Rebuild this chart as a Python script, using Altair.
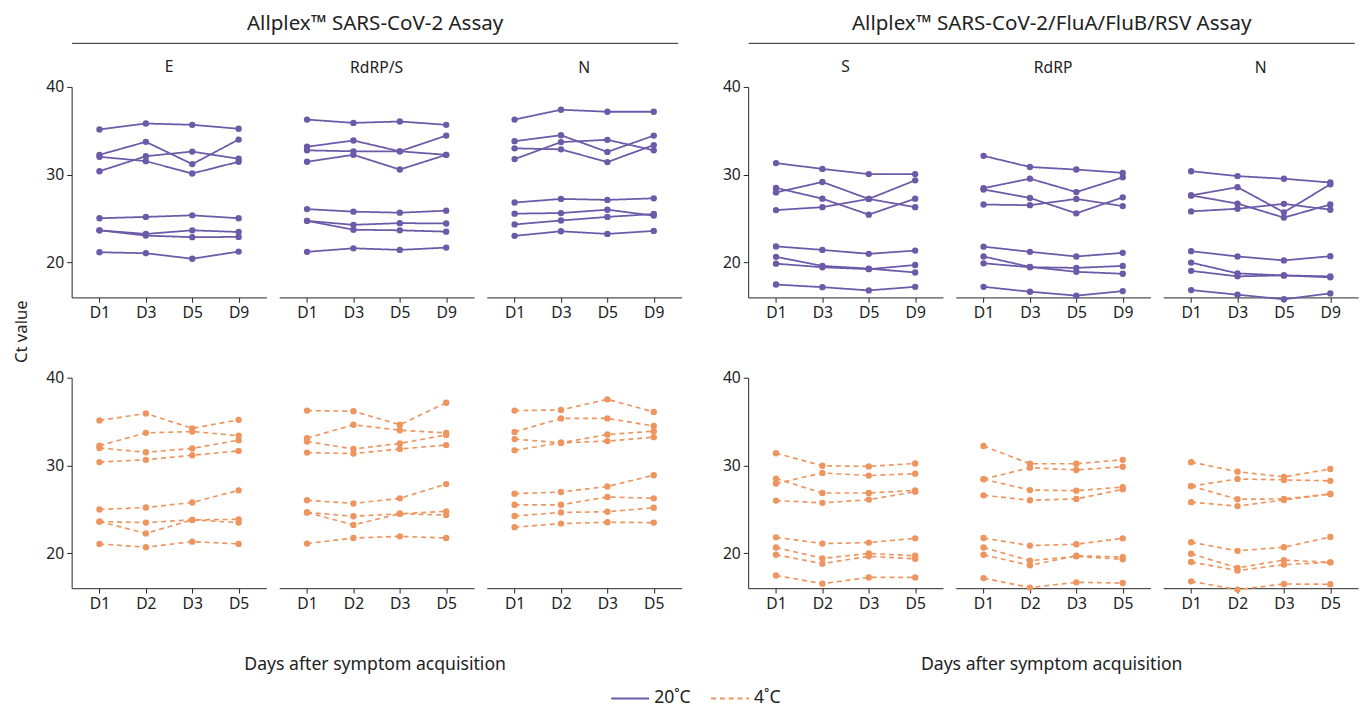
import altair as alt
import pandas as pd

PURPLE = "#6A5BA8"
ORANGE = "#EE955F"
AXIS_COLOR = "#222222"
FONT = "Noto Sans"

temps = ["20˚C", "4˚C"]
days_20 = ["D1", "D3", "D5", "D9"]
days_4 = ["D1", "D2", "D3", "D5"]
samples = ["s1", "s2", "s3", "s4", "s5", "s6", "s7", "s8"]
assay_titles = ["Allplex™ SARS-CoV-2 Assay", "Allplex™ SARS-CoV-2/FluA/FluB/RSV Assay"]
targets_1 = ["E", "RdRP/S", "N"]
targets_2 = ["S", "RdRP", "N"]
y_ticks = [20, 30, 40]
y_domain = [16, 40]
x_title = "Days after symptom acquisition"
y_title = "Ct value"

# ---- Assay 1, 20˚C (D1, D3, D5, D9) ----
e_20 = [
    [35.16, 35.83, 35.68, 35.23],
    [32.26, 33.74, 31.20, 34.00],
    [32.03, 31.54, 30.13, 31.47],
    [30.39, 32.10, 32.63, 31.81],
    [25.03, 25.18, 25.36, 25.03],
    [23.65, 23.24, 23.65, 23.46],
    [23.65, 23.05, 22.87, 22.90],
    [21.15, 21.04, 20.41, 21.23],
]
rdrps_20 = [
    [36.28, 35.90, 36.06, 35.68],
    [33.18, 33.89, 32.66, 32.26],
    [32.77, 32.66, 32.66, 34.45],
    [31.47, 32.26, 30.58, 32.26],
    [26.07, 25.78, 25.66, 25.89],
    [24.73, 24.28, 24.47, 24.43],
    [24.73, 23.72, 23.65, 23.50],
    [21.20, 21.60, 21.42, 21.68],
]
n1_20 = [
    [36.28, 37.40, 37.17, 37.17],
    [33.82, 34.49, 32.59, 34.45],
    [33.00, 32.88, 31.43, 33.37],
    [31.77, 33.71, 33.97, 32.77],
    [26.82, 27.23, 27.12, 27.30],
    [25.55, 25.62, 26.00, 25.33],
    [24.32, 24.77, 25.18, 25.51],
    [23.02, 23.54, 23.24, 23.58],
]
# ---- Assay 2, 20˚C ----
s_20 = [
    [31.32, 30.65, 30.06, 30.06],
    [27.97, 29.16, 27.23, 26.29],
    [28.49, 27.26, 25.44, 27.26],
    [25.96, 26.29, 27.23, 29.35],
    [21.82, 21.42, 20.97, 21.34],
    [20.63, 19.59, 19.29, 18.84],
    [19.85, 19.44, 19.22, 19.70],
    [17.47, 17.17, 16.80, 17.21],
]
rdrp_20 = [
    [32.14, 30.87, 30.58, 30.20],
    [28.46, 29.54, 28.01, 29.69],
    [28.31, 27.34, 25.59, 27.41],
    [26.59, 26.52, 27.23, 26.41],
    [21.79, 21.20, 20.67, 21.08],
    [20.67, 19.48, 18.92, 18.70],
    [19.89, 19.44, 19.37, 19.59],
    [17.21, 16.65, 16.20, 16.72],
]
n2_20 = [
    [30.39, 29.83, 29.53, 29.10],
    [27.63, 28.57, 25.70, 28.90],
    [27.63, 26.70, 25.10, 26.59],
    [25.81, 26.11, 26.67, 26.00],
    [21.27, 20.67, 20.22, 20.70],
    [19.97, 18.74, 18.51, 18.40],
    [19.03, 18.40, 18.51, 18.29],
    [16.84, 16.31, 15.79, 16.46],
]
# ---- Assay 1, 4˚C (D1, D2, D3, D5) ----
e_4 = [
    [35.13, 35.92, 34.23, 35.20],
    [32.25, 33.71, 33.86, 33.40],
    [31.99, 31.50, 31.94, 32.88],
    [30.38, 30.64, 31.16, 31.65],
    [24.98, 25.20, 25.77, 27.16],
    [23.60, 23.48, 23.79, 23.85],
    [23.60, 22.25, 23.79, 23.48],
    [21.05, 20.67, 21.31, 21.05],
]
rdrps_4 = [
    [36.25, 36.18, 34.64, 37.15],
    [33.11, 34.64, 34.01, 33.71],
    [32.73, 31.87, 32.51, 33.48],
    [31.46, 31.35, 31.87, 32.32],
    [26.03, 25.66, 26.25, 27.87],
    [24.64, 24.20, 24.49, 24.76],
    [24.64, 23.22, 24.49, 24.34],
    [21.09, 21.72, 21.91, 21.72],
]
n1_4 = [
    [36.25, 36.33, 37.53, 36.10],
    [33.82, 35.36, 35.36, 34.49],
    [33.00, 32.58, 33.52, 33.90],
    [31.72, 32.58, 32.77, 33.22],
    [26.78, 26.97, 27.60, 28.88],
    [25.51, 25.51, 26.40, 26.25],
    [24.23, 24.64, 24.72, 25.17],
    [22.96, 23.37, 23.52, 23.48],
]
# ---- Assay 2, 4˚C ----
s_4 = [
    [31.39, 29.96, 29.89, 30.22],
    [27.94, 29.14, 28.84, 29.06],
    [28.50, 26.85, 26.85, 27.15],
    [25.99, 25.73, 26.10, 27.00],
    [21.80, 21.09, 21.20, 21.69],
    [20.64, 19.40, 19.96, 19.70],
    [19.81, 18.80, 19.63, 19.36],
    [17.45, 16.52, 17.23, 17.23],
]
rdrp_4 = [
    [32.21, 30.19, 30.19, 30.64],
    [28.43, 29.74, 29.48, 29.85],
    [28.43, 27.19, 27.12, 27.53],
    [26.59, 26.03, 26.18, 27.27],
    [21.72, 20.86, 21.01, 21.69],
    [20.64, 19.14, 19.63, 19.29],
    [19.81, 18.61, 19.70, 19.55],
    [17.15, 16.07, 16.67, 16.59],
]
n2_4 = [
    [30.37, 29.29, 28.69, 29.59],
    [27.64, 28.46, 28.35, 28.24],
    [27.64, 26.14, 26.18, 26.74],
    [25.81, 25.36, 26.07, 26.74],
    [21.24, 20.26, 20.67, 21.84],
    [19.93, 18.31, 19.21, 18.95],
    [18.99, 18.01, 18.69, 18.95],
    [16.78, 15.84, 16.48, 16.45],
]

PANEL_W = 199
PANEL_H = 215
COL_GAP = 11
GROUP_W = 3 * PANEL_W + 2 * COL_GAP

color_scale = alt.Scale(domain=temps, range=[PURPLE, ORANGE])
dash_scale = alt.Scale(domain=temps, range=[[1, 0], [5, 4]])


def make_legend():
    return alt.Legend(
        title=None, orient="none", legendX=550, legendY=649, direction="horizontal",
        symbolType="stroke", symbolSize=1500, symbolStrokeWidth=2,
        labelFontSize=18, labelColor=AXIS_COLOR, labelFont=FONT,
        columnPadding=16, labelOffset=4, padding=0,
    )


def make_df(values, days, temp):
    rows = []
    for s, series in zip(samples, values):
        for d, v in zip(days, series):
            rows.append({"sample": s, "day": d, "ct": v, "temp": temp})
    return pd.DataFrame(rows)


def panel(values, days, temp, title=None, show_y=False):
    df = make_df(values, days, temp)
    x_axis = alt.Axis(
        title="", domainColor=AXIS_COLOR, tickColor=AXIS_COLOR, labelColor=AXIS_COLOR,
        labelFontSize=16, labelFont=FONT, labelAngle=0, tickSize=5, labelPadding=3,
        domainWidth=1, tickWidth=1, grid=False,
    )
    x_enc = alt.X("day:O", sort=days,
                  scale=alt.Scale(type="point", domain=days, padding=0.6),
                  axis=x_axis)
    y_scale = alt.Scale(domain=y_domain, nice=False, zero=False)
    if show_y:
        y_axis = alt.Axis(
            title="", values=y_ticks, grid=False, domainColor=AXIS_COLOR, tickColor=AXIS_COLOR,
            labelColor=AXIS_COLOR, labelFontSize=16, labelFont=FONT, tickSize=5,
            labelPadding=3, domainWidth=1, tickWidth=1, minExtent=0,
        )
        y_enc = alt.Y("ct:Q", scale=y_scale, axis=y_axis)
    else:
        y_enc = alt.Y("ct:Q", scale=y_scale, axis=None)

    is_warm = temp == temps[0]
    ch = alt.Chart(df).mark_line(
        strokeWidth=1.8 if is_warm else 1.7,
        point=alt.OverlayMarkDef(filled=True, size=42, opacity=1),
    ).encode(
        x=x_enc,
        y=y_enc,
        detail="sample:N",
        color=alt.Color("temp:N", scale=color_scale, legend=make_legend()),
        strokeDash=alt.StrokeDash("temp:N", scale=dash_scale, legend=make_legend()),
    )
    props = dict(width=PANEL_W, height=PANEL_H)
    if title:
        # the first panel's top y label already lifts its title a little
        props["title"] = alt.TitleParams(title, fontSize=16, font=FONT, fontWeight="normal",
                                         color=AXIS_COLOR, offset=4 if show_y else 11,
                                         anchor="middle", frame="group")
    return ch.properties(**props)


def header(text):
    df = pd.DataFrame({"assay": [text]})
    return alt.Chart(df).mark_point(opacity=0).encode(
        x=alt.X("assay:N", axis=alt.Axis(
            orient="top", labels=False, ticks=False, domain=True,
            domainColor=AXIS_COLOR, domainWidth=1, title=text,
            titleFontSize=21, titleFont=FONT, titleFontWeight="normal",
            titleColor=AXIS_COLOR, titlePadding=10,
        ))
    ).properties(width=GROUP_W, height=1)


def footer(text):
    df = pd.DataFrame({"label": [text]})
    return alt.Chart(df).mark_point(opacity=0).encode(
        x=alt.X("label:N", axis=alt.Axis(
            orient="bottom", labels=False, ticks=False, domain=False, title=text,
            titleFontSize=18, titleFont=FONT, titleFontWeight="normal",
            titleColor=AXIS_COLOR, titlePadding=28,
        ))
    ).properties(width=GROUP_W, height=1)


def group(assay, targets, top_vals, bottom_vals, with_y_title):
    top = alt.hconcat(
        *[panel(v, days_20, temps[0], title=t, show_y=(i == 0))
          for i, (t, v) in enumerate(zip(targets, top_vals))],
        spacing=COL_GAP,
    )
    bottom = alt.hconcat(
        *[panel(v, days_4, temps[1], show_y=(i == 0)) for i, v in enumerate(bottom_vals)],
        spacing=COL_GAP,
    )
    if with_y_title:
        rows = alt.vconcat(top, bottom, spacing=48, title=alt.TitleParams(
            y_title, orient="left", anchor="middle", fontSize=17, font=FONT,
            fontWeight="normal", color=AXIS_COLOR, offset=15, dx=4))
    else:
        rows = alt.vconcat(top, bottom, spacing=48)
    return alt.vconcat(header(assay), rows, footer(x_title), spacing=12)


left = group(assay_titles[0], targets_1, [e_20, rdrps_20, n1_20], [e_4, rdrps_4, n1_4], True)
right = group(assay_titles[1], targets_2, [s_20, rdrp_20, n2_20], [s_4, rdrp_4, n2_4], False)

chart = alt.hconcat(left, right, spacing=40).resolve_scale(
    color="shared", strokeDash="shared"
).configure(
    font=FONT, padding={"left": 5, "top": -4, "right": 5, "bottom": 5}
).configure_view(stroke="transparent")

chart.save("out.html", embed_options={"renderer": "svg", "actions": False})
